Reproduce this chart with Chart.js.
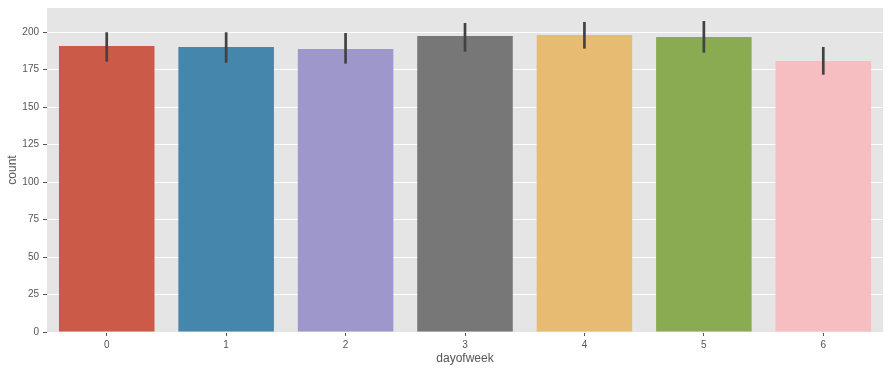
<!DOCTYPE html>
<html><head><meta charset="utf-8">
<script src="https://cdn.jsdelivr.net/npm/chart.js@4/dist/chart.umd.min.js"></script>
<style>html,body{margin:0;padding:0;background:#fff}#wrap{width:890px;height:372px}</style>
</head><body><div id="wrap"><canvas id="c" width="890" height="372"></canvas></div>
<script>
const categories = ['0','1','2','3','4','5','6'];
const counts = [190.9, 190.2, 188.9, 197.5, 198.2, 196.9, 180.9];
const ciLow = [180.4, 179.7, 179.1, 187.1, 189.1, 186.4, 171.7];
const ciHigh = [200.0, 200.0, 199.5, 206.2, 206.9, 207.5, 190.2];
const yTicks = [0, 25, 50, 75, 100, 125, 150, 175, 200];
const barColors = ['#CC5A49', '#4586AC', '#9E97CC', '#777777', '#E7BC72', '#8AAB51', '#F6BEC1'];

const bgPlugin = {
  id: 'bg',
  beforeDraw(chart) {
    const {ctx, chartArea: a} = chart;
    ctx.save(); ctx.fillStyle = '#E5E5E5';
    ctx.fillRect(a.left, a.top, a.right - a.left, a.bottom - a.top);
    ctx.restore();
  }
};
const errPlugin = {
  id: 'err',
  afterDatasetsDraw(chart) {
    const {ctx} = chart;
    const xs = chart.scales.x, ys = chart.scales.y;
    ctx.save(); ctx.strokeStyle = '#424242'; ctx.lineWidth = 2.7; ctx.lineCap = 'butt';
    categories.forEach((c, i) => {
      const x = xs.getPixelForValue(i);
      ctx.beginPath();
      ctx.moveTo(x, ys.getPixelForValue(ciLow[i]));
      ctx.lineTo(x, ys.getPixelForValue(ciHigh[i]));
      ctx.stroke();
    });
    ctx.restore();
  }
};

new Chart(document.getElementById('c'), {
  type: 'bar',
  data: { labels: categories, datasets: [{ data: counts, backgroundColor: barColors, borderWidth: 0,
    categoryPercentage: 0.8, barPercentage: 1.0 }] },
  options: {
    responsive: false, animation: false, devicePixelRatio: 1,
    layout: { padding: { left: 0, right: 7, top: 8, bottom: 0 } },
    plugins: { legend: { display: false }, tooltip: { enabled: false } },
    scales: {
      x: {
        offset: true,
        grid: { display: true, color: 'rgba(0,0,0,0)', tickColor: '#555555', tickLength: 4, drawOnChartArea: false, offset: false },
        border: { display: false },
        ticks: { color: '#555555', font: { family: 'Liberation Sans', size: 10 }, padding: 3 },
        title: { display: true, text: 'dayofweek', color: '#555555', font: { family: 'Liberation Sans', size: 12 }, padding: { top: 2, bottom: 6 } },
        afterFit(s) { s.height = 40; s.paddingLeft = 0; s.paddingRight = 0; }
      },
      y: {
        min: 0, max: 216.2,
        grid: { color: '#FFFFFF', lineWidth: 1, tickColor: '#555555', tickLength: 4 },
        border: { display: false },
        ticks: { stepSize: 25, color: '#555555', font: { family: 'Liberation Sans', size: 10 }, padding: 4 },
        afterBuildTicks(s) { s.ticks = yTicks.map(v => ({ value: v })); },
        title: { display: true, text: 'count', color: '#555555', font: { family: 'Liberation Sans', size: 12 }, padding: { top: 5, bottom: 2 } },
        afterFit(s) { s.width = 47; s.paddingTop = 0; s.paddingBottom = 0; }
      }
    }
  },
  plugins: [bgPlugin, errPlugin]
});
</script></body></html>
